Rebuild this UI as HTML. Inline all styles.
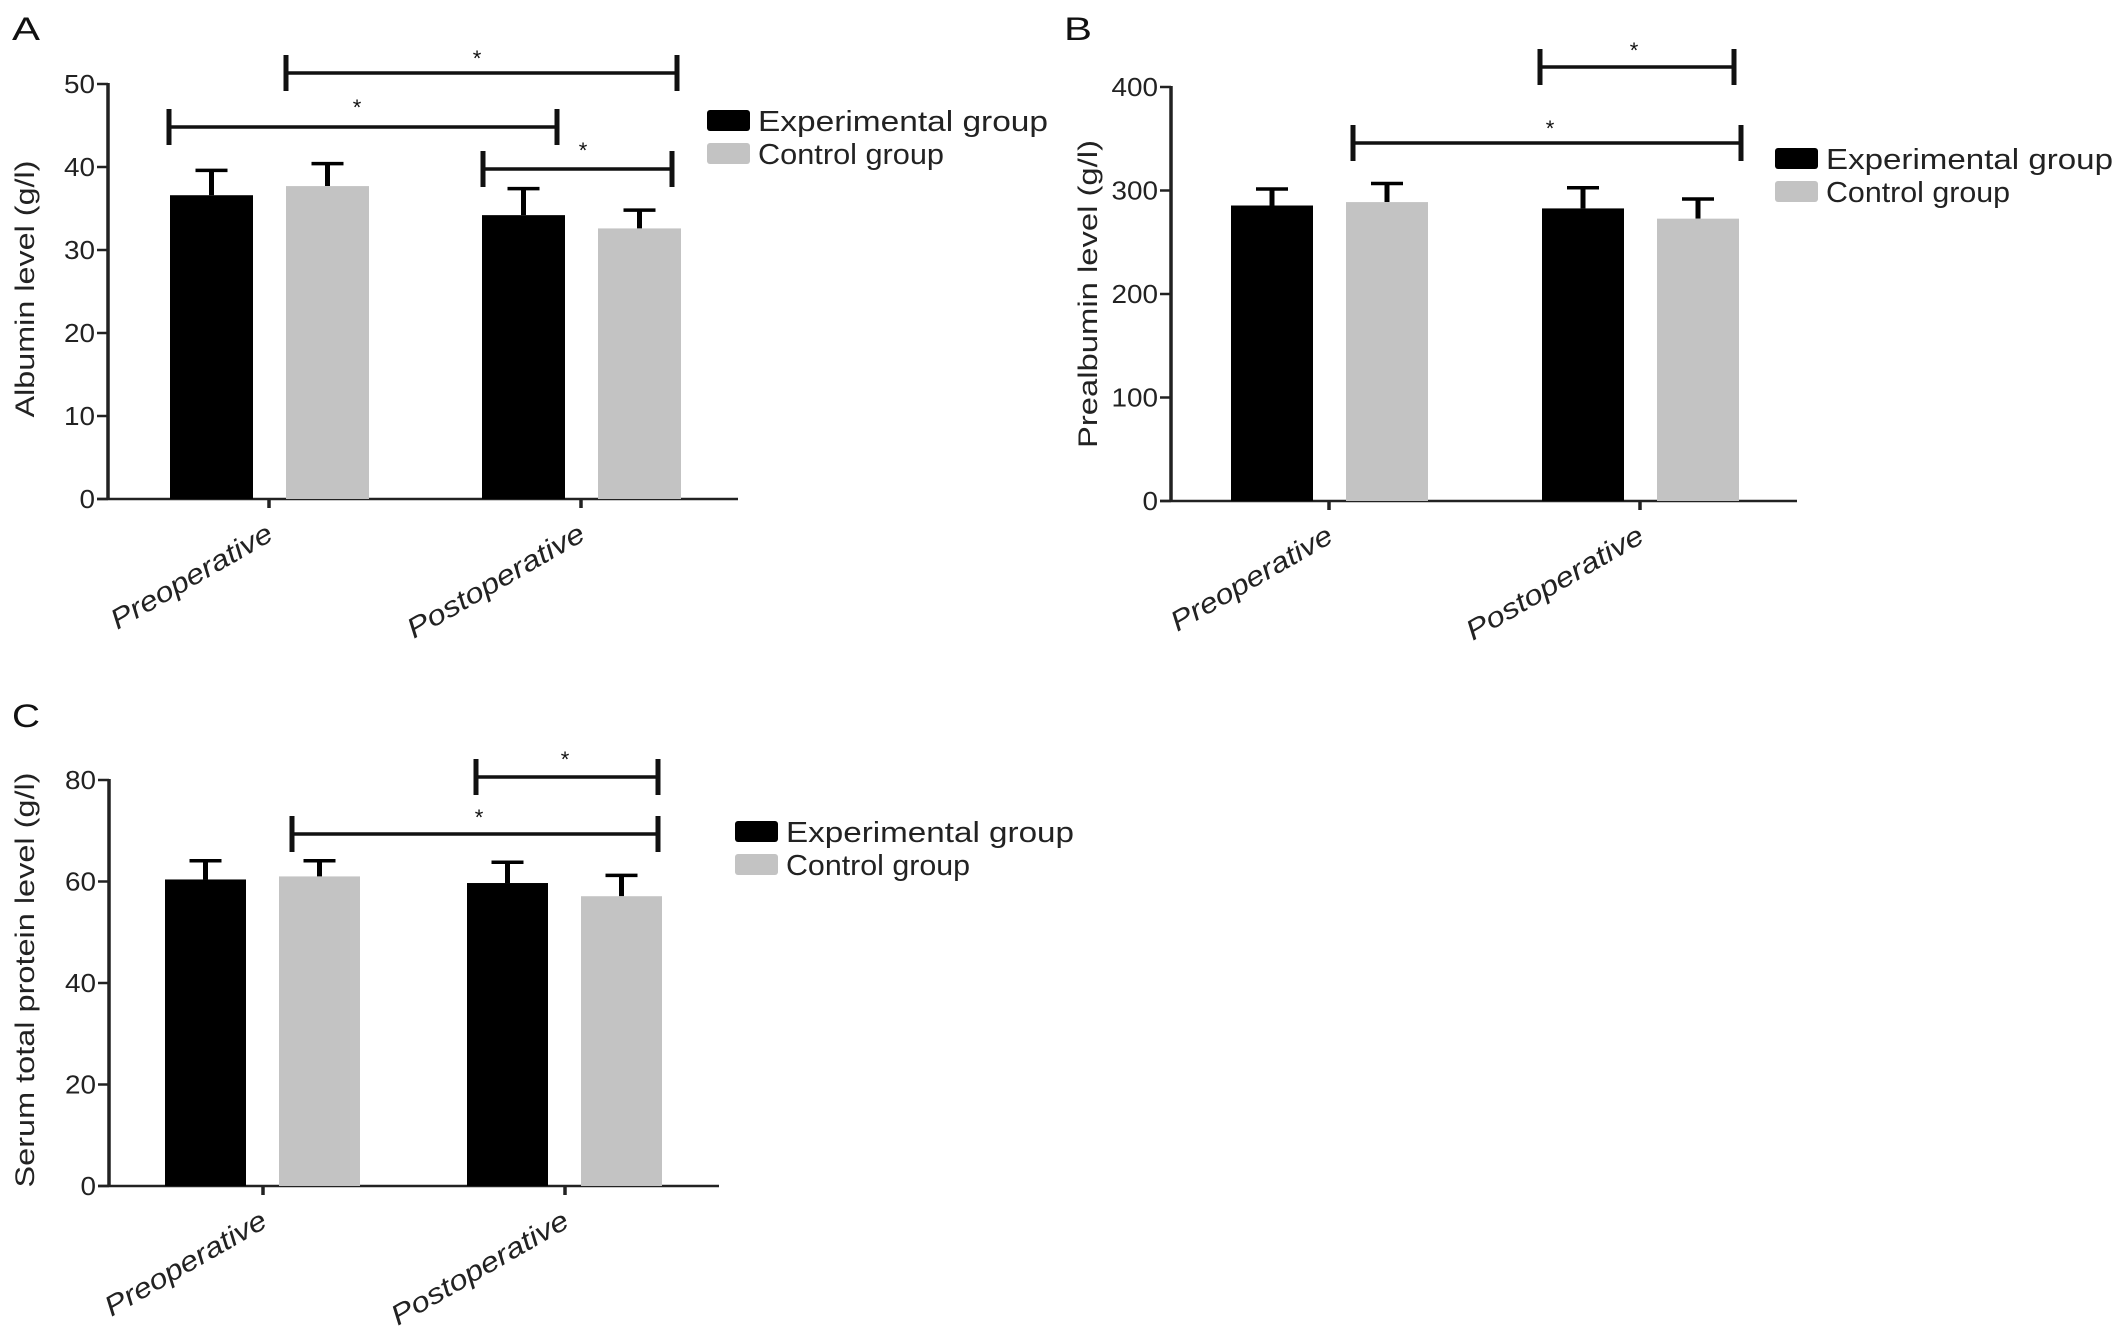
<!DOCTYPE html>
<html><head><meta charset="utf-8"><style>
html,body{margin:0;padding:0;background:#fff;overflow:hidden;}
svg{display:block;font-family:"Liberation Sans",Arial,sans-serif;}
</style></head><body>
<svg id="fig" width="2126" height="1334" viewBox="0 0 2126 1334"></svg>
<script>
const categories = ["Preoperative","Postoperative"];
const seriesNames = ["Experimental group","Control group"];
const albuminExp = [36.6, 34.2];
const albuminExpErr = [3.0, 3.2];
const albuminCtrl = [37.7, 32.6];
const albuminCtrlErr = [2.7, 2.2];
const albuminTicks = [0,10,20,30,40,50];
const prealbExp = [285.5, 282.7];
const prealbExpErr = [16, 20];
const prealbCtrl = [288.8, 272.8];
const prealbCtrlErr = [18, 19];
const prealbTicks = [0,100,200,300,400];
const proteinExp = [60.4, 59.7];
const proteinExpErr = [3.7, 4.1];
const proteinCtrl = [61.0, 57.1];
const proteinCtrlErr = [3.1, 4.1];
const proteinTicks = [0,20,40,60,80];

const NS="http://www.w3.org/2000/svg";
const svg=document.getElementById('fig');
function mk(tag,attrs,parent){const e=document.createElementNS(NS,tag);for(const k in attrs)e.setAttribute(k,attrs[k]);(parent||svg).appendChild(e);return e;}

function panel(cfg){
  const g=mk('g',{});
  
  
  const ymax=cfg.ticks[cfg.ticks.length-1];
  const Y=v=>cfg.y0-(cfg.y0-cfg.yTop)*v/ymax;
  const L=mk('text',{x:cfg.letter[0],y:cfg.letter[1],'font-size':32,fill:'#111',textLength:28,lengthAdjust:'spacingAndGlyphs'},g);
  L.textContent=cfg.letterText;
  
  
  const ya=mk('line',{x1:cfg.ax,y1:cfg.yTop-1,x2:cfg.ax,y2:cfg.y0+1,stroke:'#222','stroke-width':3.5},g);
  
  
  const xa=mk('line',{x1:cfg.ax-11,y1:cfg.y0,x2:cfg.axEnd,y2:cfg.y0,stroke:'#222','stroke-width':2.5},g);
  
  
  cfg.ticks.forEach(t=>{
    const y=Y(t);
    mk('line',{x1:cfg.ax-11,y1:y,x2:cfg.ax,y2:y,stroke:'#222','stroke-width':2.5},g);
    const tl=mk('text',{x:cfg.ax-13,y:y+9,'font-size':26,'text-anchor':'end',fill:'#222',textLength:String(t).length*15.5,lengthAdjust:'spacingAndGlyphs'},g);
    tl.textContent=t;
    
    
  });
  const yt=mk('text',{x:0,y:0,'font-size':27,'text-anchor':'middle',fill:'#222',textLength:cfg.ytitleLen,lengthAdjust:'spacingAndGlyphs',transform:`translate(${cfg.ytitle[0]+10},${cfg.ytitle[1]}) rotate(-90)`},g);
  yt.textContent=cfg.ytitleText;
  
  
  const series=[[cfg.exp,cfg.expErr,'#000'],[cfg.ctrl,cfg.ctrlErr,'#c3c3c3']];
  categories.forEach((c,i)=>{
    const tx=cfg.catX[i];
    mk('line',{x1:tx,y1:cfg.y0,x2:tx,y2:cfg.y0+9,stroke:'#222','stroke-width':3.5},g);
    const cl=mk('text',{x:0,y:0,'font-size':28,'font-style':'italic','text-anchor':'end',fill:'#222',textLength:i==0?182:200,lengthAdjust:'spacingAndGlyphs',transform:`translate(${tx+6},${cfg.y0+40}) rotate(-30)`},g);
    cl.textContent=c;
    
    
    series.forEach((s,j)=>{
      const x=tx+cfg.off[j]; const w=cfg.bw;
      const v=s[0][i], e=s[1][i];
      const top=Y(v), et=Y(v+e);
      const cx=x+w/2;
      const eb=mk('line',{x1:cx,y1:top,x2:cx,y2:et,stroke:'#000','stroke-width':5},g);
      
      
      mk('line',{x1:cx-16,y1:et,x2:cx+16,y2:et,stroke:'#000','stroke-width':3.5},g);
      const r=mk('rect',{x:x,y:top,width:w,height:cfg.y0-top,fill:s[2]},g);
      
      
    });
  });
  cfg.sig.forEach(b=>{
    const [x1,x2,y,h,sx,sy]=b;
    const sg=mk('g',{},g);
    
    
    mk('line',{x1:x1,y1:y,x2:x2,y2:y,stroke:'#111','stroke-width':3.5},sg);
    mk('line',{x1:x1,y1:y-h,x2:x1,y2:y+h,stroke:'#111','stroke-width':5},sg);
    mk('line',{x1:x2,y1:y-h,x2:x2,y2:y+h,stroke:'#111','stroke-width':5},sg);
    const st=mk('text',{x:sx,y:sy+11,'font-size':22,'text-anchor':'middle',fill:'#111'},sg);
    st.textContent='*';
  });
  seriesNames.forEach((n,j)=>{
    const lg=mk('g',{},g);
    
    
    const ly=cfg.leg[1]+j*33;
    mk('rect',{x:cfg.leg[0],y:ly,width:43,height:21,rx:3,fill:j==0?'#000':'#c3c3c3'},lg);
    const t=mk('text',{x:cfg.leg[0]+51,y:ly+21,'font-size':29,fill:'#222',lengthAdjust:'spacingAndGlyphs'},lg);
    t.textContent=n;
    t.setAttribute('textLength',j==0?cfg.legW:Math.round(cfg.legW*0.64));
  });
}

panel({name:'panel-a-albumin',letterText:'A',letter:[12,40],ax:108,axEnd:738,y0:499,yTop:84,ticks:albuminTicks,
  ytitle:[24,289],ytitleText:'Albumin level (g/l)',ytitleLen:257,catX:[269,581],off:[-99,17],bw:83,
  exp:albuminExp,expErr:albuminExpErr,ctrl:albuminCtrl,ctrlErr:albuminCtrlErr,
  sig:[[286,677,73,18,477,55],[169,557,127,18,357,104],[483,672,169,18,583,147]],
  leg:[707,110],legW:290});
panel({name:'panel-b-prealbumin',letterText:'B',letter:[1064,40],ax:1171,axEnd:1797,y0:501,yTop:87,ticks:prealbTicks,
  ytitle:[1087,294],ytitleText:'Prealbumin level (g/l)',ytitleLen:308,catX:[1329,1640],off:[-98,17],bw:82,
  exp:prealbExp,expErr:prealbExpErr,ctrl:prealbCtrl,ctrlErr:prealbCtrlErr,
  sig:[[1540,1734,67,18,1634,47],[1353,1741,143,18,1550,125]],
  leg:[1775,148],legW:287});
panel({name:'panel-c-serum-protein',letterText:'C',letter:[12,727],ax:109,axEnd:719,y0:1186,yTop:780,ticks:proteinTicks,
  ytitle:[24,980],ytitleText:'Serum total protein level (g/l)',ytitleLen:415,catX:[263,565],off:[-98,16],bw:81,
  exp:proteinExp,expErr:proteinExpErr,ctrl:proteinCtrl,ctrlErr:proteinCtrlErr,
  sig:[[476,658,777,18,565,756],[292,658,834,18,479,814]],
  leg:[735,821],legW:288});
</script>
</body></html>
